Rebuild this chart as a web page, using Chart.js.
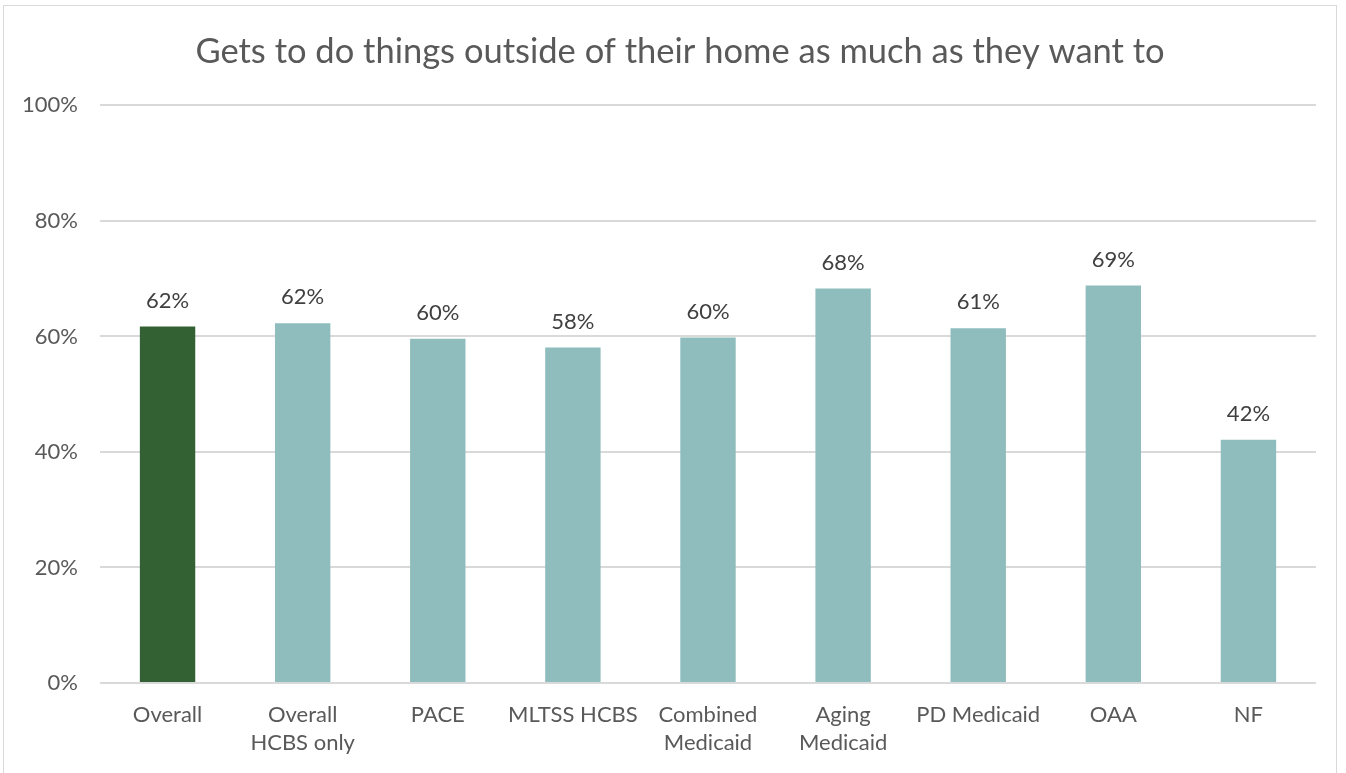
<!DOCTYPE html>
<html>
<head>
<meta charset="utf-8">
<script src="https://cdn.jsdelivr.net/npm/chart.js@4"></script>
<style>
    html, body { margin: 0; padding: 0; background: #fff; overflow: hidden; }
    #wrap { position: relative; width: 1346px; height: 773px; overflow: hidden; }
    #frame { position: absolute; left: 3px; top: 5px; width: 1334px; height: 800px; border: 1px solid #d9d9d9; box-sizing: border-box; }
    canvas { position: absolute; left: 0; top: 0; }
</style>
</head>
<body>
<div id="wrap">
    <div id="frame"></div>
    <canvas id="chart" width="1360" height="773"></canvas>
</div>
<script>
const categories = [
    'Overall',
    ['Overall', 'HCBS only'],
    'PACE',
    'MLTSS HCBS',
    ['Combined', 'Medicaid'],
    ['Aging', 'Medicaid'],
    'PD Medicaid',
    'OAA',
    'NF'
];
const values = [61.7, 62.3, 59.6, 58.1, 59.8, 68.3, 61.4, 68.8, 42.1];
const valueLabels = ['62%', '62%', '60%', '58%', '60%', '68%', '61%', '69%', '42%'];
const yTicks = [0, 20, 40, 60, 80, 100];

const barColors = values.map((v, i) => i === 0 ? '#336133' : '#8fbdbd');
const fontFamily = 'Lato, "Open Sans", sans-serif';

// writes the percent above each bar
const valueLabelPlugin = {
    id: 'valueLabels',
    afterDatasetsDraw(chart) {
        const ctx = chart.ctx;
        const meta = chart.getDatasetMeta(0);
        ctx.save();
        ctx.font = '22px ' + fontFamily;
        ctx.fillStyle = '#404040';
        ctx.textAlign = 'center';
        ctx.textBaseline = 'middle';
        meta.data.forEach((bar, i) => {
            ctx.fillText(valueLabels[i], bar.x, bar.y - 26);
        });
        ctx.restore();
    }
};

new Chart(document.getElementById('chart'), {
    type: 'bar',
    data: {
        labels: categories,
        datasets: [{
            data: values,
            backgroundColor: barColors,
            categoryPercentage: 1,
            barPercentage: 0.41
        }]
    },
    options: {
        responsive: false,
        animation: false,
        layout: { padding: 0 },
        plugins: {
            legend: { display: false },
            tooltip: { enabled: false },
            title: {
                display: true,
                text: 'Gets to do things outside of their home as much as they want to',
                color: '#595959',
                font: { family: fontFamily, size: 34.5, weight: 'normal' },
                padding: { top: 31, bottom: 33 }
            }
        },
        scales: {
            x: {
                grid: { display: false },
                border: { display: false },
                ticks: {
                    color: '#595959',
                    font: { family: fontFamily, size: 22, lineHeight: 1.27 },
                    padding: 10,
                    maxRotation: 0,
                    autoSkip: false
                },
                afterFit(scale) { scale.height = 90; }
            },
            y: {
                min: 0,
                max: 100,
                afterBuildTicks(scale) { scale.ticks = yTicks.map(v => ({ value: v })); },
                grid: { color: '#d9d9d9', lineWidth: 2, drawTicks: false },
                border: { display: false },
                ticks: {
                    color: '#595959',
                    font: { family: fontFamily, size: 22 },
                    padding: 22,
                    callback: v => v + '%'
                },
                afterFit(scale) { scale.width = 100; }
            },
            // empty right axis, only there to reserve space so the title sits where the original has it
            spacer: {
                type: 'linear',
                position: 'right',
                grid: { display: false },
                border: { display: false },
                ticks: { display: false },
                afterFit(scale) { scale.width = 44; }
            }
        }
    },
    plugins: [valueLabelPlugin]
});
</script>
</body>
</html>
